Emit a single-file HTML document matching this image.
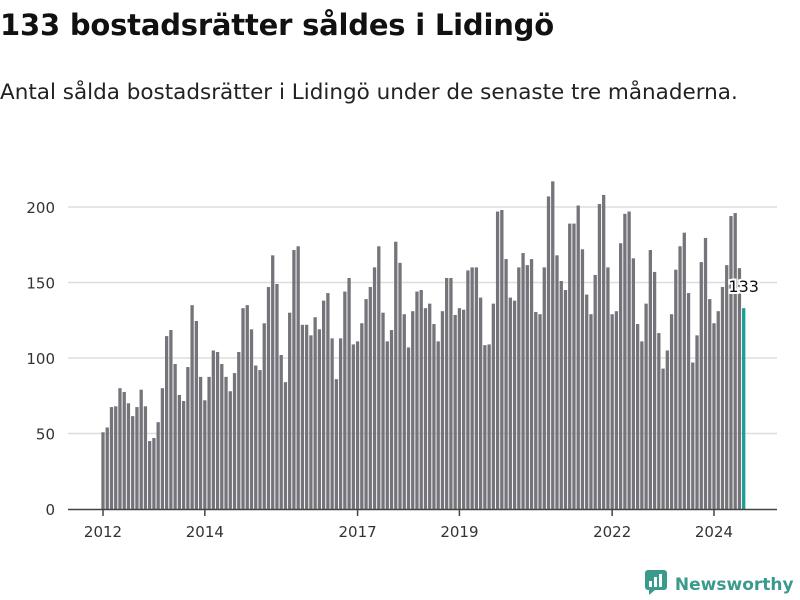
<!DOCTYPE html>
<html><head><meta charset="utf-8"><style>
body{margin:0;width:800px;height:600px;background:#fff;font-family:"DejaVu Sans",sans-serif;overflow:hidden;position:relative}
#t{position:absolute;left:0;top:8px;font-size:29px;font-weight:bold;color:#111;letter-spacing:-0.2px}
#s{position:absolute;left:0;top:80px;font-size:21.5px;color:#222;letter-spacing:0px}
#logo{position:absolute;left:645px;top:569px;font-size:17px;font-weight:bold;color:#3a9a8c;white-space:nowrap}
</style></head><body>
<div id="t">133 bostadsrätter såldes i Lidingö</div>
<div id="s">Antal sålda bostadsrätter i Lidingö under de senaste tre månaderna.</div>
<svg id="c" width="800" height="600" style="position:absolute;left:0;top:0"></svg>
<div id="logo"><svg width="24" height="26" style="vertical-align:-5px"><rect x="0" y="1" width="22" height="20" rx="3" fill="#3a9a8c"/><polygon points="4,21 10,21 4,26" fill="#3a9a8c"/><rect x="4" y="12" width="3" height="6" fill="#fff"/><rect x="9" y="8" width="3" height="10" fill="#fff"/><rect x="14" y="5" width="3" height="13" fill="#fff"/></svg> Newsworthy</div>
<script>
const startYear = 2012;
const values = [50.8,54,67.5,68,80,77.5,70,61.5,67.5,79,68,45,
47,57.5,80,114.5,118.5,96,75.5,71.5,94,135,124.5,87.5,
72,87.5,105,104,96,87.5,78,90,104,133,135,119,
95,92,123,147,168,149,102,84,130,171.5,174,122,
122,115,127,119,138,143,113,86,113,144,153,109,
111,123,139,147,160,174,130,111,118.5,177,163,129,
107,131,144,145,133,136,122.5,111,131,153,153,128.5,
133,132,158,160,160,140,108.5,109,136,197,198,165.5,
140,138,160,169.5,161.5,165.5,130.5,129,160,207,217,168,
151,145,189,189,201,172,142,129,155,202,208,160,
129,131,176,195.5,197,166,122.5,111,136,171.5,157,116.5,
93,105,129,158.5,174,183,143,97,115,163.5,179.5,139,
123,131,147,161.5,194,196,159.5,133];
const yTicks = [0,50,100,150,200];
const xTickYears = [2012,2014,2017,2019,2022,2024];
const NS="http://www.w3.org/2000/svg";
const svg=document.getElementById('c');
const y=v=>509-v*1.51;
const x=i=>103+i*4.243;
function mk(t,a){const e=document.createElementNS(NS,t);for(const k in a)e.setAttribute(k,a[k]);svg.appendChild(e);return e;}
yTicks.forEach(v=>{
  if(v>0){const g=mk('line',{x1:68,x2:777,y1:y(v),y2:y(v),stroke:'#ddd','stroke-width':1.5});
  
  }
  const t=mk('text',{x:55,y:y(v)+6,'text-anchor':'end','font-size':15,fill:'#333','font-family':'DejaVu Sans, sans-serif'});
  t.textContent=v;
  
  
});
values.forEach((v,i)=>{
  const last=i===values.length-1;
  const r=mk('rect',{x:x(i)-1.65,y:y(v),width:3.3,height:509-y(v),fill:last?'#1a9e96':'#75747b'});
  
  
});
const ax=mk('line',{x1:68,x2:777,y1:509.5,y2:509.5,stroke:'#444','stroke-width':1.5});


xTickYears.forEach(yr=>{
  const i=(yr-startYear)*12;
  const tk=mk('line',{x1:x(i),x2:x(i),y1:509,y2:516,stroke:'#444','stroke-width':1.5});
  
  
  const t=mk('text',{x:x(i),y:537,'text-anchor':'middle','font-size':15,fill:'#333','font-family':'DejaVu Sans, sans-serif'});
  t.textContent=yr;
  
  
});
const li=values.length-1;
const lab=mk('text',{x:x(li),y:y(values[li])-16,'text-anchor':'middle','font-size':16,fill:'#111',stroke:'#fff','stroke-width':4,'paint-order':'stroke','font-family':'DejaVu Sans, sans-serif'});
lab.textContent=Math.round(values[li]);


</script>
</body></html>
